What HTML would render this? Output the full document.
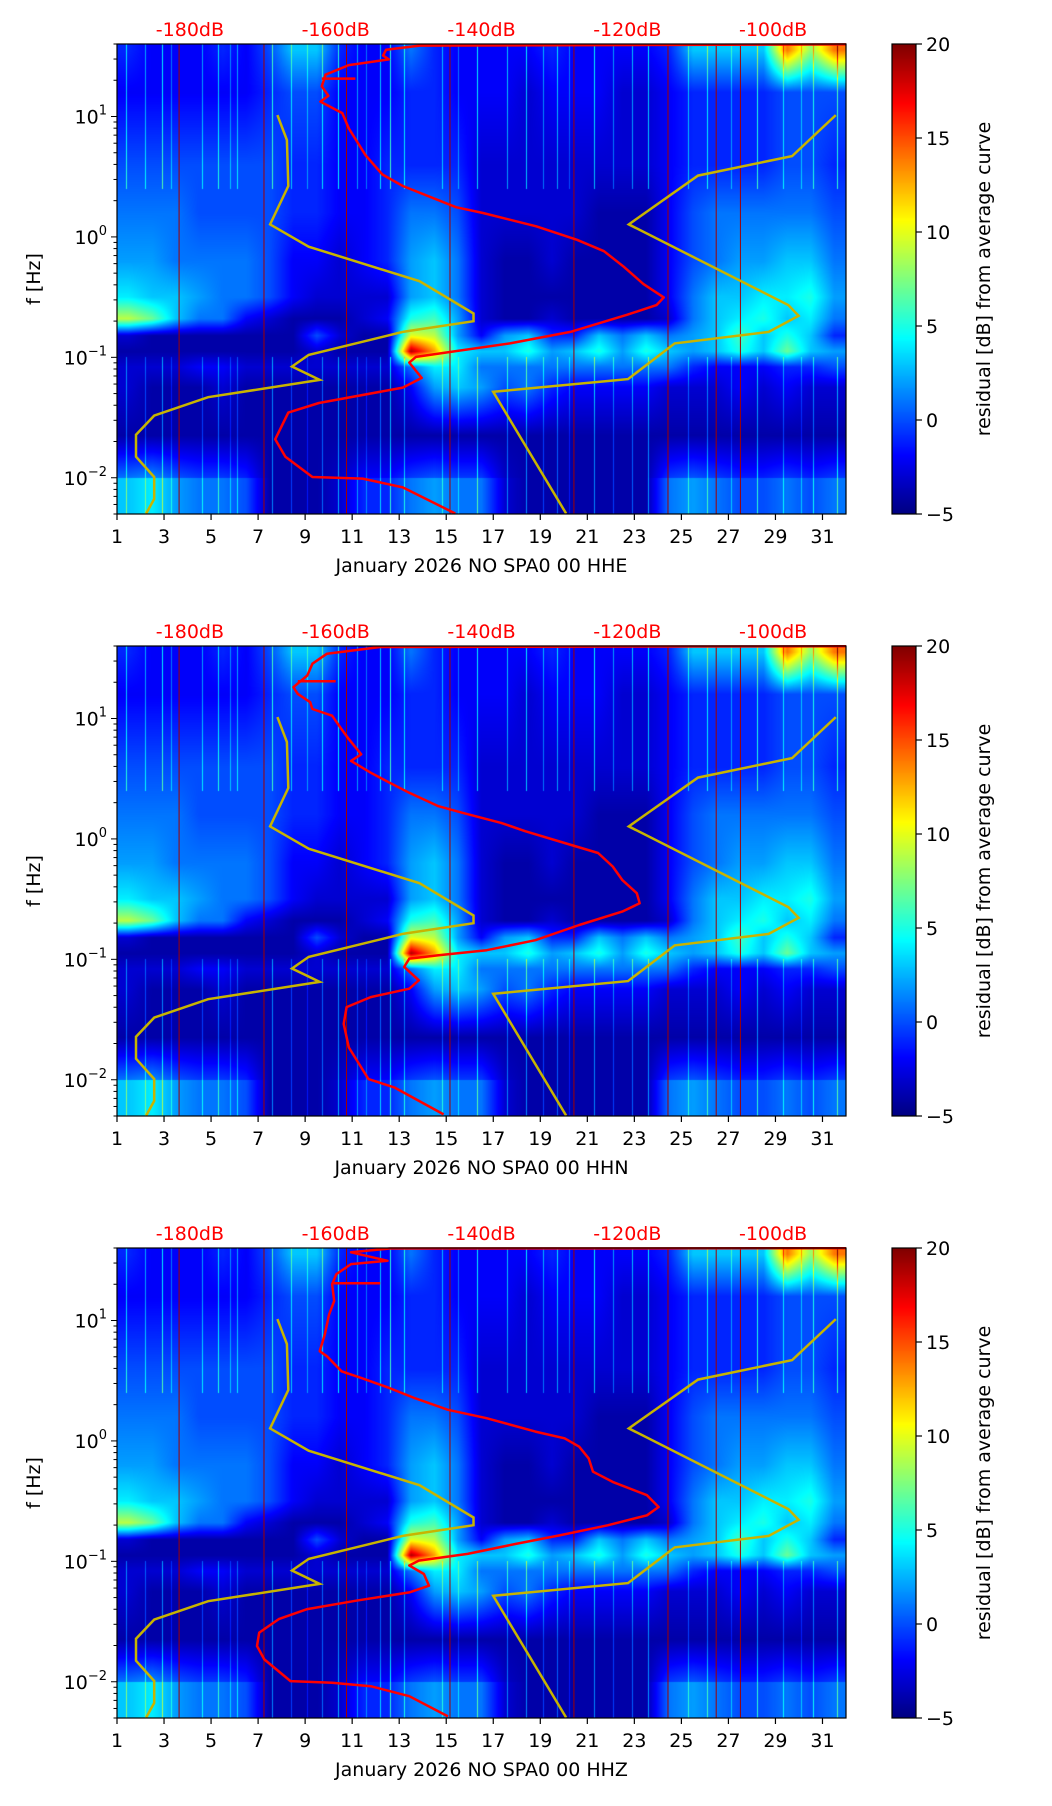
<!DOCTYPE html>
<html><head><meta charset="utf-8">
<style>
body{margin:0;background:#fff;width:1052px;height:1806px;overflow:hidden;font-family:"DejaVu Sans","Liberation Sans",sans-serif;}
#wrap{position:relative;width:1052px;height:1806px;}
canvas{position:absolute;}
svg{position:absolute;left:0;top:0;}
</style></head>
<body>
<div id="wrap">
<svg id="svg" width="1052" height="1806"></svg>
</div>
<script>
// ---- data ----
const dayTicks=[1,3,5,7,9,11,13,15,17,19,21,23,25,27,29,31];
const dbTicks=[-180,-160,-140,-120,-100];
const cbTicks=[-5,0,5,10,15,20];
const yTickExp=[1,0,-1,-2];
const titles=["January 2026 NO SPA0 00 HHE","January 2026 NO SPA0 00 HHN","January 2026 NO SPA0 00 HHZ"];
const rowLogF=[1.55,1.2,0.6,0.2,-0.2,-0.5,-0.68,-0.82,-0.95,-1.08,-1.25,-1.65,-2.15];
const gridRows=[
[-1,-2,-2,-2,-1,-2,0,3,3,-1,-2,-2,1,-1,-2,-2,-2,-2,-1,-2,-2,-2,-2,-1,3,3,3,3,14,8,14],
[-2,-2,-2,-2,-2,-2,-1,0,0,-2,-2,-2,-1,-1,-2,-2,-2,-3,-2,-2,-2,-3,-3,-2,-1,-1,-1,-1,0,0,0],
[0,0,0,0,0,0,0,-1,-1,-2,-2,-1,-1,-1,-1,-3,-3,-3,-3,-3,-3,-3,-3,-2,-1,-1,-1,-1,0,0,-1],
[1,1,1,0,0,0,0,-1,-1,-2,-2,-1,1,1,0,-3,-3,-3,-3,-3,-4,-4,-4,-2,0,1,1,1,1,1,0],
[2,2,1,1,1,1,0,-2,-2,-3,-2,-1,2,3,1,-3,-4,-4,-3,-4,-4,-4,-4,-2,0,1,2,2,3,3,1],
[4,3,3,2,1,1,0,-2,-3,-3,-3,-3,2,3,1,-3,-4,-4,-4,-4,-4,-4,-4,-2,1,3,3,4,4,5,2],
[9,7,3,1,1,-2,-3,-4,-4,-4,-3,-2,5,6,2,-3,-4,-4,-3,-4,-4,-4,-4,-3,1,3,4,5,3,4,1],
[-3,-4,-4,-4,-4,-4,-4,-4,0,-3,-4,-4,10,9,2,-2,2,3,-1,-1,3,1,3,1,2,3,6,3,5,3,-1],
[-4,-4,-4,-4,-4,-4,-4,-4,-3,-4,-4,-4,19,13,4,3,3,5,2,3,5,2,5,3,2,3,5,3,7,3,2],
[-3,-3,-3,-2,-2,-3,-3,-3,-3,-3,-3,-3,1,4,4,1,1,1,1,1,1,1,1,1,-1,-2,-2,-2,-1,-1,0],
[-3,-4,-4,-4,-3,-4,-4,-4,-4,-4,-4,-4,-2,2,3,2,0,1,-1,-2,-2,-2,-2,-3,-3,-3,-2,-3,-2,-3,-3],
[-4,-4,-4,-4,-4,-4,-4,-4,-4,-4,-4,-4,-4,-4,-4,-4,-4,-4,-4,-4,-4,-4,-4,-4,-4,-4,-4,-4,-4,-4,-4],
[3,4,2,1,1,0,-4,-4,-4,-3,-1,-1,1,2,1,1,-3,-4,-4,-4,-4,-4,-4,1,2,1,0,0,1,0,1]
];
const streakDays=[1.4,2.2,2.9,3.3,4.6,5.3,5.8,6.1,7.6,8.4,9.1,9.7,10.4,11.2,11.6,12.2,12.6,13.2,14.8,15.5,16.3,17.6,18.4,19.1,19.7,20.2,21.3,22.1,22.9,23.6,25.3,26.1,27.1,28.2,29.3,30.1,30.6,31.6];
const streakVals=[5,4,6,3,4,5,3,4,6,4,3,5,6,4,3,5,7,5,4,3,6,5,6,4,5,3,6,4,5,6,4,5,3,6,4,3,5,6];
const vlineDays=[3.64,7.25,10.76,15.16,20.43,24.43,26.48,27.51];
// noise models (dB, log10 f)
const nlnmDb=[-168.0,-166.7,-166.5,-169.0,-163.7,-148.5,-141.1,-141.1,-150.8,-163.7,-166.0,-162.2,-177.5,-184.9,-187.4,-187.4,-184.9,-184.9,-186.0];
const nlnmLf=[1.012,0.805,0.423,0.104,-0.081,-0.368,-0.636,-0.700,-0.789,-0.980,-1.076,-1.187,-1.331,-1.484,-1.643,-1.825,-1.994,-2.176,-2.297];
const nhnmDb=[-91.4,-97.4,-110.3,-119.8,-97.9,-96.5,-100.6,-113.5,-119.9,-138.4,-128.4];
const nhnmLf=[1.012,0.671,0.509,0.104,-0.566,-0.655,-0.789,-0.884,-1.181,-1.286,-2.297];
const avgDb1=[-90.0,-148.5,-153.1,-153.5,-152.7,-158.2,-161.4,-161.9,-161.0,-162.1,-159.1,-158.2,-155.9,-153.6,-150.8,-143.5,-139.8,-132.5,-126.9,-123.2,-120.5,-117.8,-115.0,-116.0,-120.0,-127.8,-136.1,-149.0,-149.9,-148.2,-150.8,-162.3,-166.5,-168.3,-166.9,-163.2,-156.3,-150.8,-143.6];
const avgLf1=[1.599,1.589,1.554,1.506,1.474,1.427,1.347,1.251,1.172,1.124,1.028,0.901,0.678,0.518,0.423,0.247,0.199,0.088,-0.024,-0.119,-0.247,-0.390,-0.502,-0.566,-0.646,-0.789,-0.884,-0.996,-1.044,-1.171,-1.251,-1.379,-1.459,-1.681,-1.825,-1.994,-2.007,-2.080,-2.297];
const avgDb2=[-90.0,-153.9,-161.2,-163.2,-163.9,-165.8,-165.2,-163.5,-163.2,-160.5,-159.2,-158.2,-156.5,-157.9,-155.2,-152.6,-149.9,-145.9,-142.6,-137.3,-134.0,-128.6,-124.0,-122.0,-120.7,-118.7,-118.3,-120.7,-126.6,-132.6,-139.3,-145.9,-149.9,-150.6,-148.6,-149.9,-155.2,-158.5,-158.9,-158.2,-155.5,-151.9,-145.2];
const avgLf2=[1.600,1.594,1.538,1.455,1.357,1.260,1.204,1.135,1.079,1.023,0.912,0.829,0.703,0.648,0.550,0.467,0.383,0.272,0.217,0.133,0.064,-0.034,-0.117,-0.229,-0.340,-0.451,-0.535,-0.604,-0.715,-0.841,-0.924,-0.966,-0.994,-1.063,-1.174,-1.244,-1.314,-1.397,-1.536,-1.731,-1.995,-2.065,-2.288];
const avgDb3=[-90.0,-152.6,-157.9,-155.9,-152.9,-157.9,-159.9,-160.5,-160.2,-160.9,-161.5,-162.2,-161.2,-159.2,-156.5,-152.6,-149.2,-144.6,-139.3,-132.6,-128.6,-126.6,-125.3,-124.7,-122.0,-117.3,-115.7,-117.3,-122.7,-129.3,-135.3,-141.9,-148.6,-149.9,-147.9,-147.2,-149.9,-157.2,-163.9,-167.8,-170.5,-170.8,-169.8,-166.2,-160.5,-155.2,-149.9,-144.6];
const avgLf3=[1.600,1.598,1.566,1.538,1.496,1.468,1.385,1.302,1.162,1.051,0.884,0.745,0.703,0.578,0.523,0.439,0.356,0.258,0.189,0.077,0.022,-0.048,-0.145,-0.256,-0.340,-0.451,-0.549,-0.618,-0.701,-0.785,-0.855,-0.938,-0.994,-1.035,-1.105,-1.202,-1.258,-1.327,-1.397,-1.480,-1.592,-1.703,-1.814,-1.995,-2.009,-2.037,-2.120,-2.288];
const spurDbStart=[-161.9,-165.2,-160.5], spurDbEnd=[-157.3,-160.0,-153.9], spurLf=[1.315,1.309,1.309];
const avgDb=[avgDb1,avgDb2,avgDb3], avgLf=[avgLf1,avgLf2,avgLf3];

// ---- layout ----
const L=117,W=729,H=470,TOP0=44,STEP=602,CBX=892,CBW=24;
const DAY0=1,DAY1=32,LF0=Math.log10(0.005),LF1=Math.log10(40),DB0=-190,DB1=-90;
const xDay=d=>L+(d-DAY0)/(DAY1-DAY0)*W;
const xDb=v=>L+(v-DB0)/(DB1-DB0)*W;
const yLf=(lf,t)=>t+(LF1-lf)/(LF1-LF0)*H;
const NS="http://www.w3.org/2000/svg";
const svg=document.getElementById('svg');
function jet(v){let t=(v+5)/25;t=Math.max(0,Math.min(1,t));
 const f=x=>Math.max(0,Math.min(1,1.5-Math.abs(4*t-x)));
 return [f(3)*255,f(2)*255,f(1)*255];}
function el(tag,attrs,parent){const e=document.createElementNS(NS,tag);for(const k in attrs)e.setAttribute(k,attrs[k]);(parent||svg).appendChild(e);return e;}
function gridVal(day,lf){
 const cx=Math.max(0,Math.min(30,day-1.5)),c0=Math.floor(cx),c1=Math.min(30,c0+1),fx=cx-c0;
 let r0,r1,fy;
 if(lf<-2){r0=r1=12;fy=0;}
 else{r0=0;while(r0<11&&rowLogF[r0+1]>lf)r0++;r1=r0+1;
  fy=(rowLogF[r0]-lf)/(rowLogF[r0]-rowLogF[r1]);fy=Math.max(0,Math.min(1,fy));}
 const a=gridRows[r0][c0]*(1-fx)+gridRows[r0][c1]*fx,b=gridRows[r1][c0]*(1-fx)+gridRows[r1][c1]*fx;
 return a*(1-fy)+b*fy;}
function path(dbs,lfs,t){return dbs.map((d,i)=>(i?'L':'M')+xDb(d).toFixed(1)+','+yLf(lfs[i],t).toFixed(1)).join(' ');}
const wrap=document.getElementById('wrap');
for(let p=0;p<3;p++){
 const T=TOP0+p*STEP;
 const cv=document.createElement('canvas');cv.width=W;cv.height=H;cv.style.left=L+'px';cv.style.top=T+'px';
 
 
 wrap.insertBefore(cv,svg);
 const ctx=cv.getContext('2d'),img=ctx.createImageData(W,H);
 const colAdd=new Float32Array(W);
 streakDays.forEach((d,i)=>{const x=Math.round(xDay(d)-L);if(x>=0&&x<W)colAdd[x]=streakVals[i];});
 for(let y=0;y<H;y++){const lf=LF1-(y+0.5)/H*(LF1-LF0);
  for(let x=0;x<W;x++){const day=DAY0+(x+0.5)/W*(DAY1-DAY0);
   let v=gridVal(day,lf);
   if(colAdd[x]){ if(lf>0.4)v+=colAdd[x]; else if(lf<-1.0)v+=colAdd[x]*0.9; }
   const c=jet(v),k=(y*W+x)*4;img.data[k]=c[0];img.data[k+1]=c[1];img.data[k+2]=c[2];img.data[k+3]=255;}}
 ctx.putImageData(img,0,0);
 vlineDays.forEach(d=>{const l=el('line',{x1:xDay(d),x2:xDay(d),y1:T,y2:T+H,stroke:'#a00000','stroke-width':1});
  });
 const n1=el('path',{d:path(nlnmDb,nlnmLf,T),fill:'none',stroke:'#c8b400','stroke-width':2.5});
 
 const n2=el('path',{d:path(nhnmDb,nhnmLf,T),fill:'none',stroke:'#c8b400','stroke-width':2.5});
 
 const av=el('path',{d:path(avgDb[p],avgLf[p],T),fill:'none',stroke:'#ff0000','stroke-width':2.5,'stroke-linejoin':'round'});
 
 const sp=el('line',{x1:xDb(spurDbStart[p]),x2:xDb(spurDbEnd[p]),y1:yLf(spurLf[p],T),y2:yLf(spurLf[p],T),stroke:'#ff0000','stroke-width':2.5});
 
 const fr=el('rect',{x:L,y:T,width:W,height:H,fill:'none',stroke:'#000','stroke-width':1.2});
 
 dayTicks.forEach(d=>{const x=xDay(d);el('line',{x1:x,x2:x,y1:T+H,y2:T+H+6,stroke:'#000','stroke-width':1.2});
  const t=el('text',{x:x,y:T+H+29,'text-anchor':'middle','font-size':19,fill:'#000'});t.textContent=d;
  });
 const xl=el('text',{x:L+W/2,y:T+H+58,'text-anchor':'middle','font-size':19,fill:'#000'});xl.textContent=titles[p];
 
 dbTicks.forEach(v=>{const t=el('text',{x:xDb(v),y:T-8,'text-anchor':'middle','font-size':19,fill:'#ff0000'});t.textContent=v+'dB';
  });
 for(let e=-3;e<=1;e++)for(let m=1;m<10;m++){const lf=e+Math.log10(m);if(lf<LF0||lf>LF1)continue;
  const y=yLf(lf,T);el('line',{x1:L-(m==1?6:3.5),x2:L,y1:y,y2:y,stroke:'#000','stroke-width':1});}
 yTickExp.forEach(e=>{const y=yLf(e,T);const t=el('text',{x:L-10,y:y+7,'text-anchor':'end','font-size':19,fill:'#000'});
  
  t.textContent='10';const s=el('tspan',{dy:-9,'font-size':13},t);s.textContent=(e<0?'\u2212':'')+Math.abs(e);});
 const yl=el('text',{x:0,y:0,'text-anchor':'middle','font-size':19,fill:'#000',transform:`translate(40,${T+H/2}) rotate(-90)`});yl.textContent='f [Hz]';
 
 const cb=document.createElement('canvas');cb.width=CBW;cb.height=H;cb.style.left=CBX+'px';cb.style.top=T+'px';
 
 
 wrap.insertBefore(cb,svg);
 const cc=cb.getContext('2d');for(let y=0;y<H;y++){const c=jet(20-y/H*25);cc.fillStyle=`rgb(${c[0]|0},${c[1]|0},${c[2]|0})`;cc.fillRect(0,y,CBW,1);}
 el('rect',{x:CBX,y:T,width:CBW,height:H,fill:'none',stroke:'#000','stroke-width':1.2});
 cbTicks.forEach(v=>{const y=T+(20-v)/25*H;el('line',{x1:CBX+CBW,x2:CBX+CBW+6,y1:y,y2:y,stroke:'#000','stroke-width':1.2});
  const t=el('text',{x:CBX+CBW+10,y:y+7,'font-size':19,fill:'#000'});t.textContent=(v<0?'\u2212':'')+Math.abs(v);
  });
 const cl=el('text',{x:0,y:0,'text-anchor':'middle','font-size':19,fill:'#000',transform:`translate(990,${T+H/2}) rotate(-90)`});cl.textContent='residual [dB] from average curve';
 
}
</script>
</body></html>
